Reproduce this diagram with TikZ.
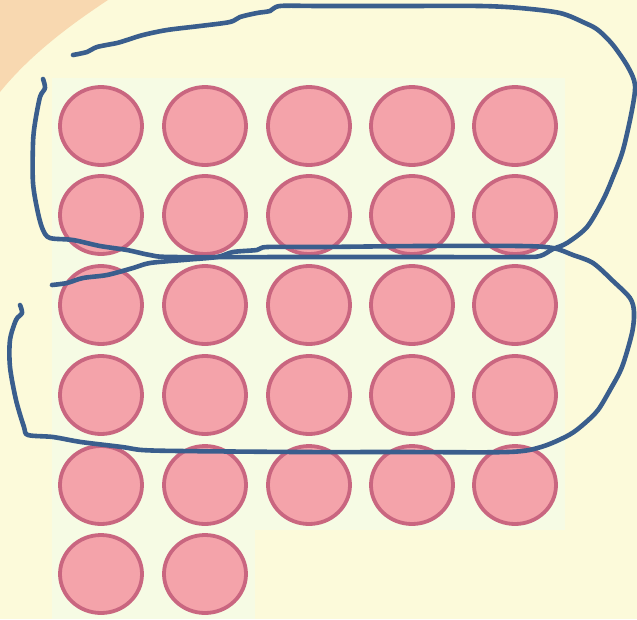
\documentclass[tikz,border=0pt]{standalone}
\begin{document}
\begin{tikzpicture}[x=1pt,y=-1pt,
  dot/.style={draw=dotline,fill=dotfill,line width=3.8pt},
  loopline/.style={draw=penblue,line width=4.6pt,line cap=round,line join=round}]
\definecolor{bg}{HTML}{FCFADA}
\definecolor{peach}{HTML}{F8D8B0}
\definecolor{mint}{HTML}{F6FBE4}
\definecolor{dotline}{HTML}{C96680}
\definecolor{dotfill}{HTML}{F4A3AA}
\definecolor{penblue}{HTML}{3A5E8D}
\useasboundingbox (0,0) rectangle (637,619);
\fill[bg] (0,0) rectangle (637,619);
% peach corner
\fill[peach] (0,0) -- (108,0) .. controls (70,25) and (30,55) .. (0,92) -- cycle;
% faint tile area
\fill[mint] (52,78) rectangle (565,530);
\fill[mint] (52,530) rectangle (255,619);
% dots
\foreach \r/\yy in {1/126,2/215,3/305,4/395,5/485}{
  \foreach \c/\xx in {1/101,2/205,3/309,4/412,5/515}{
    \path[dot] (\xx,\yy) ellipse (41 and 39);
  }
}
\foreach \c/\xx in {1/101,2/205}{
  \path[dot] (\xx,574) ellipse (41 and 39);
}
% loop 1
\draw[loopline] plot[smooth,tension=0.5] coordinates {
 (73,55) (87,52) (97,47) (117,43) (127,40) (143,35) (167,30) (200,26) (230,22)
 (240,17) (257,13) (270,11) (280,6) (320,6) (400,6) (480,6) (520,8) (560,13)
 (585,23) (598,30) (613,45) (628,67) (635,85) (632,110) (623,150) (613,177)
 (603,200) (587,227) (567,243) (553,249) (540,256) (520,257) (400,257) (300,257)
 (173,257) (150,255) (127,250) (100,246) (73,240) (50,238) (43,230) (38,213)
 (33,183) (33,143) (35,123) (40,97) (45,88) (43,79)};
% loop 2
\draw[loopline] plot[smooth,tension=0.5] coordinates {
 (52,285) (67,283) (83,278) (107,275) (133,268) (150,263) (183,260) (217,257)
 (233,252) (257,250) (267,247) (320,247) (420,246) (520,246) (553,248) (573,255)
 (593,263) (613,281) (630,298) (634,312) (632,333) (622,367) (610,390) (598,410)
 (585,423) (569,435) (541,447) (508,452) (400,452) (300,452) (180,451) (142,450)
 (122,447) (81,442) (53,437) (28,435) (24,427) (16,400) (10,367) (10,340)
 (16,320) (22,313) (20,305)};
\end{tikzpicture}
\end{document}
